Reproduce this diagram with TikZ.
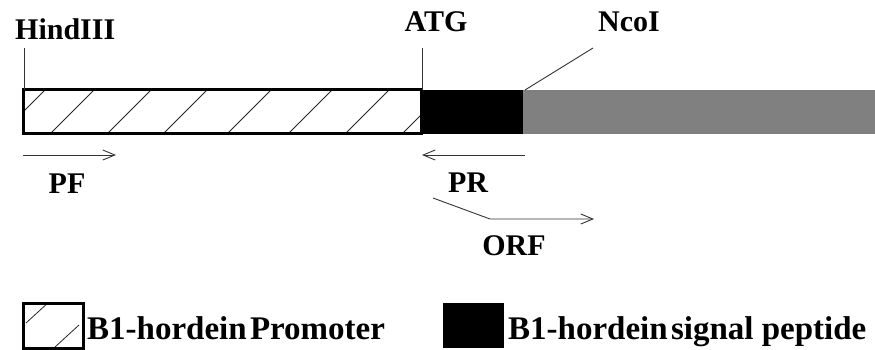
\documentclass[tikz,border=0pt]{standalone}
\usepackage{fontspec}
\setmainfont{Liberation Serif}
\usetikzlibrary{arrows.meta}
\tikzset{
  lbl/.style={font=\fontsize{30}{32}\selectfont\bfseries, inner sep=0pt},
  leg/.style={font=\fontsize{33}{35}\selectfont\bfseries, inner sep=0pt, anchor=base west},
  thin line/.style={draw=black!80, line width=0.9pt},
  primer/.style={thin line, -{Straight Barb[length=12pt,width=10pt]}},
  hatch/.style={draw=black!85, line width=0.8pt},
  frame/.style={draw=black, line width=3pt},
}
\begin{document}
\begin{tikzpicture}[x=1pt,y=-1pt]
\useasboundingbox (0,0) rectangle (875,350);
% bar
\fill[black!50] (523,90) rectangle (875,134);
\fill[black] (421,90) rectangle (523,134);
\begin{scope}
  \clip (23,90) rectangle (421,134);
  \foreach \x in {1,50,107,163,227,288,345,402}
    \draw[hatch] (\x,134) -- ++(44,-44);
\end{scope}
\draw[frame] (23,90) rectangle (421,134);
\coordinate (hbar) at (24,90);
\coordinate (abar) at (422,90);
\coordinate (nbar) at (525,90);
% labels
\node[lbl, anchor=base west] (hind) at (15,40) {HindIII};
\node[lbl, anchor=base] (atg) at (436,32) {ATG};
\node[lbl, anchor=base] (nco) at (629,32) {NcoI};
\coordinate (hindt) at (24,48);
\coordinate (atgt) at (422,48);
\coordinate (ncot) at (593,48);
\draw[thin line] (hindt) -- (hbar);
\draw[thin line] (atgt) -- (abar);
\draw[thin line] (ncot) -- (nbar);
% primers
\coordinate (pfs) at (23,155);
\coordinate (pfe) at (116,155);
\draw[primer] (pfs) -- (pfe);
\node[lbl, anchor=base] (pf) at (67,193) {PF};
\coordinate (prs) at (525,155);
\coordinate (pre) at (422,155);
\draw[primer] (prs) -- (pre);
\node[lbl, anchor=base] (pr) at (468,192) {PR};
\coordinate (orfs) at (433,198);
\coordinate (orfm) at (490,219);
\coordinate (orfe) at (594,219);
\draw[primer] (orfs) -- (orfm) -- (orfe);
\node[lbl, anchor=base] (orf) at (514,255) {ORF};
% legend
\begin{scope}
  \clip (23,303) rectangle (83,348);
  \draw[hatch] (26,323) -- ++(24,-22);
  \draw[hatch] (55,347) -- ++(24,-22);
\end{scope}
\draw[frame] (23,303) rectangle (83,348);
\node[leg] (legp) at (87,339) {B1-hordein\hspace{0.1em}Promoter};
\fill[black] (443,303) rectangle (504,348);
\node[leg] (legs) at (508,339) {B1-hordein\hspace{0.1em}signal peptide};
\end{tikzpicture}
\end{document}
